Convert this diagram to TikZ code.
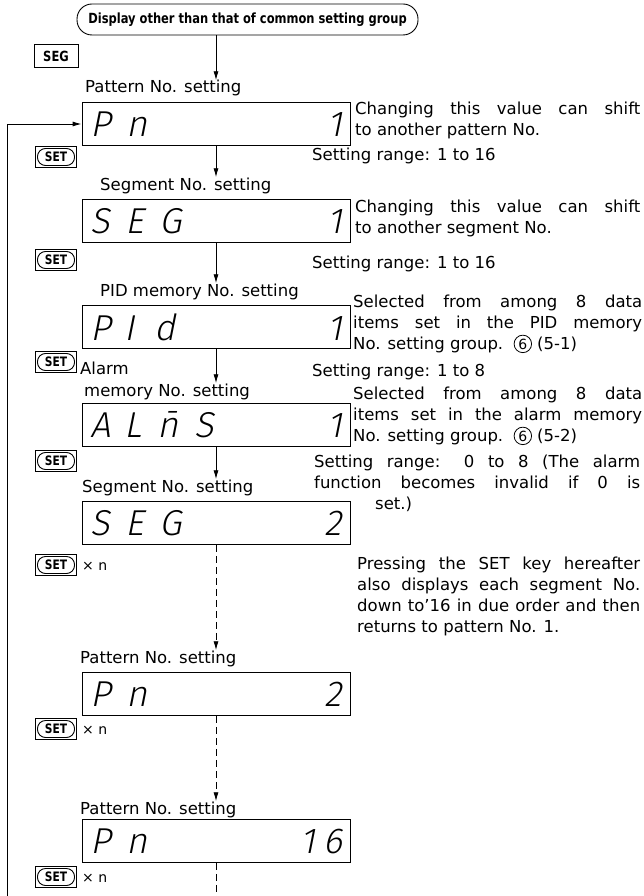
\documentclass[tikz,border=0pt]{standalone}
\usepackage{fontspec}
\setmainfont{DejaVu Sans}
\newfontfamily\keyfont{DejaVu Sans}[FakeStretch=0.82]
\IfFontExistsTF{Fira Sans Light}
  {\newfontfamily\segfont{Fira Sans Light}[FakeSlant=0.2]}
  {\newfontfamily\segfont{Latin Modern Sans}[FakeSlant=0.2]}
\usetikzlibrary{arrows.meta, positioning, calc}

\begin{document}
\begin{tikzpicture}[
    x=1pt, y=-1pt,
    font=\fontsize{16.5}{21}\selectfont,
    every node/.style={inner sep=0pt},
    term/.style={draw, rounded corners=15pt, minimum width=341pt, minimum height=31pt, line width=0.9pt, font=\keyfont\bfseries\fontsize{14}{14}\selectfont},
    keybox/.style={draw, minimum width=44pt, minimum height=23pt, line width=0.9pt, font=\keyfont\bfseries\fontsize{14}{14}\selectfont},
    setkey/.style={draw, minimum width=41pt, minimum height=21pt, line width=0.9pt, font=\keyfont\bfseries\fontsize{13}{13}\selectfont,
      path picture={\draw[rounded corners=8pt, line width=0.9pt] ([shift={(2pt,-2pt)}]path picture bounding box.north west) rectangle ([shift={(-2pt,2pt)}]path picture bounding box.south east);}},
    display/.style={draw, minimum width=268pt, minimum height=43pt, line width=0.9pt, font=\segfont\fontsize{36}{36}\selectfont},
    label/.style={anchor=base west},
    note/.style={anchor=base west, align=justify},
    times/.style={anchor=base west, font=\fontsize{14}{14}\selectfont},
    circnum/.style={draw, circle, inner sep=1.3pt, line width=0.8pt, font=\fontsize{14}{14}\selectfont},
    arrow/.style={-{Latex[length=9pt, width=5pt]}, line width=0.9pt},
    dasharrow/.style={arrow, dash pattern=on 7pt off 4pt},
    dashline/.style={line width=0.9pt, dash pattern=on 7pt off 4pt}
  ]
  \useasboundingbox (0,0) rectangle (643,896);

  % Start
  \node[term] (start) at (247.5, 19.5) {Display other than that of common setting group};
  \node[keybox] (segkey) at (56, 56) {SEG};

  % Pattern No. 1
  \node[label] (lbl1) at (85, 93) {Pattern No. setting};
  \node[display] (pn1) at (216, 124) {\makebox[252pt]{P\hspace{16pt}n\hfill 1}};
  \node[note, text width=285pt] (note1) at (355, 115) {Changing this value can shift\linebreak to another pattern No.};
  \node[setkey] (set1) at (56, 157) {SET};
  \node[label] (range1) at (312, 161) {Setting range: 1 to 16};

  % Segment No. 1
  \node[label] (lbl2) at (100, 190) {Segment No. setting};
  \node[display] (seg1) at (216, 221) {\makebox[252pt]{S\hspace{16pt}E\hspace{16pt}G\hfill 1}};
  \node[note, text width=285pt] (note2) at (355, 212) {Changing this value can shift\linebreak to another segment No.};
  \node[setkey] (set2) at (56, 260) {SET};
  \node[label] (range2) at (312, 268) {Setting range: 1 to 16};

  % PID memory No.
  \node[label] (lbl3) at (100, 296) {PID memory No. setting};
  \node[display] (pid) at (216, 327) {\makebox[252pt]{P\hspace{14pt}I\hspace{20pt}d\hfill 1}};
  \node[note, text width=289pt] (note3) at (353, 307) {Selected from among 8 data\linebreak items set in the PID memory\linebreak No. setting group.\ \ \tikz[baseline=(six1.base)]\node[circnum] (six1) {6};\ (5-1)};
  \node[setkey] (set3) at (56, 362) {SET};
  \node[label] (lbl4a) at (80, 374) {Alarm};
  \node[label] (range3) at (312, 376) {Setting range: 1 to 8};

  % Alarm memory No.
  \node[label] (lbl4) at (84, 396) {memory No. setting};
  \node[display] (alm) at (216, 425) {\makebox[252pt]{A\hspace{14pt}L\hspace{16pt}\={n}\hspace{16pt}S\hfill 1}};
  \node[note, text width=289pt] (note4) at (353, 399) {Selected from among 8 data\linebreak items set in the alarm memory\linebreak No. setting group.\ \ \tikz[baseline=(six2.base)]\node[circnum] (six2) {6};\ (5-2)};
  \node[setkey] (set4) at (56, 461) {SET};
  \node[note, text width=326pt] (note5) at (314, 467) {Setting range: 0 to 8 (The alarm\linebreak function becomes invalid if 0 is\linebreak\hspace*{61pt}set.)};

  % Segment No. 2
  \node[label] (lbl5) at (82, 492) {Segment No. setting};
  \node[display] (seg2) at (216, 523) {\makebox[252pt]{S\hspace{16pt}E\hspace{16pt}G\hfill 2}};
  \node[setkey] (set5) at (56, 565) {SET};
  \node[times] (times5) at (82, 570) {× n};
  \node[note, text width=283pt] (note6) at (357, 569) {Pressing the SET key hereafter\linebreak also displays each segment No.\linebreak down to'16 in due order and then\linebreak returns to pattern No. 1.};

  % Pattern No. 2
  \node[label] (lbl6) at (80, 663) {Pattern No. setting};
  \node[display] (pn2) at (216, 694) {\makebox[252pt]{P\hspace{16pt}n\hfill 2}};
  \node[setkey] (set6) at (56, 729) {SET};
  \node[times] (times6) at (82, 734) {× n};

  % Pattern No. 16
  \node[label] (lbl7) at (80, 814) {Pattern No. setting};
  \node[display] (pn16) at (216, 841) {\makebox[252pt]{P\hspace{16pt}n\hfill 1\hspace{8pt}6}};
  \node[setkey] (set7) at (56, 877) {SET};
  \node[times] (times7) at (82, 882) {× n};

  \coordinate (loopstart) at (7, 896);
  \coordinate (tail) at (216, 896);

  % Arrows
  \draw[arrow] (start.south -| pn1) -- (pn1 |- lbl1.north);
  \draw[arrow] (pn1) -- (pn1 |- lbl2.north);
  \draw[arrow] (seg1) -- (seg1 |- lbl3.north);
  \draw[arrow] (pid) -- (pid |- lbl4.north);
  \draw[arrow] (alm) -- (alm |- lbl5.north);
  \draw[dasharrow] (seg2) -- (seg2 |- lbl6.north);
  \draw[dasharrow] (pn2) -- (pn2 |- lbl7.north);
  \draw[dashline] (pn16) -- (tail);
  \draw[arrow] (loopstart) |- (pn1);

\end{tikzpicture}
\end{document}
